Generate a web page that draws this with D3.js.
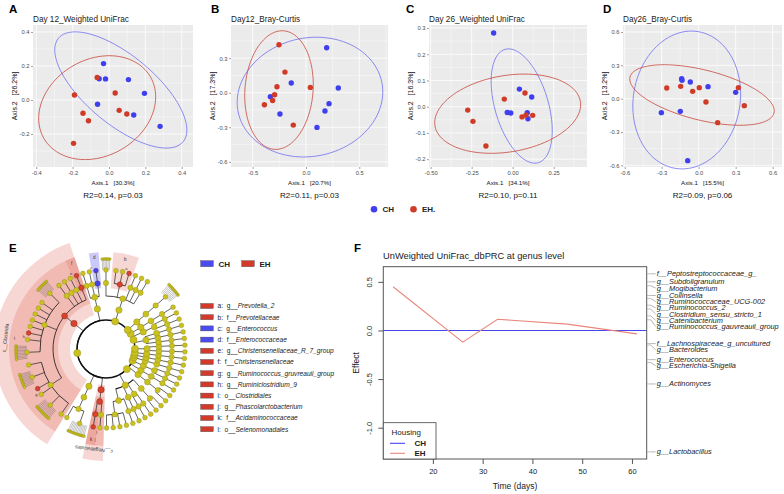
<!DOCTYPE html>
<html><head><meta charset="utf-8">
<script src="https://cdn.jsdelivr.net/npm/d3@7"></script>
<style>body{margin:0;background:#fff} svg{display:block;font-family:"Liberation Sans",Arial,sans-serif}</style>
</head><body><svg id="c" width="784" height="494"></svg>
<script>
// ================= DATA =================
// PCoA panels A-D
const pcoaTitles = ["Day 12_Weighted UniFrac","Day12_Bray-Curtis","Day 26_Weighted UniFrac","Day26_Bray-Curtis"];
const pcoaAxis1 = ["Axis.1   [30.3%]","Axis.1   [20.7%]","Axis.1   [34.1%]","Axis.1   [15.5%]"];
const pcoaAxis2 = ["Axis.2   [26.2%]","Axis.2   [17.3%]","Axis.2   [16.3%]","Axis.2   [13.2%]"];
const pcoaStats = ["R2=0.14, p=0.03","R2=0.11, p=0.03","R2=0.10, p=0.11","R2=0.09, p=0.06"];
const pcoaXTicks = [[-0.4,-0.2,0,0.2,0.4],[-0.5,0,0.5],[-0.5,-0.25,0,0.25],[-0.6,-0.3,0,0.3,0.6]];
const pcoaYTicks = [[-0.2,0,0.2,0.4],[-0.6,-0.3,0,0.3],[-0.2,-0.1,0,0.1,0.2,0.3],[-0.6,-0.3,0,0.3,0.6]];
const pcoaXFmt = [".1f",".1f",".2f",".1f"];
const chPoints = [
  [[-0.03,0.214],[-0.054,0.125],[-0.019,0.124],[0.107,0.12],[0.195,0.039],[-0.063,-0.025],[0.136,-0.088],[0.281,-0.155]],
  [[0.194,0.391],[0.303,0.041],[-0.138,0.084],[0.216,-0.095],[0.178,-0.159],[0.103,-0.301],[-0.334,-0.035],[-0.244,-0.185]],
  [[-0.116,0.281],[0.041,0.067],[0.116,0.037],[-0.033,-0.022],[-0.012,-0.024],[0.089,-0.023],[0.093,-0.046]],
  [[-0.138,0.18],[-0.135,0.165],[-0.068,0.15],[0.076,0.108],[0.3,0.057],[-0.303,-0.126],[-0.149,-0.114],[-0.089,-0.558]]
];
const ehPoints = [
  [[-0.065,0.133],[-0.19,0.029],[0.034,0.041],[-0.143,-0.078],[0.056,-0.061],[0.098,-0.082],[-0.113,-0.122],[-0.195,-0.255]],
  [[-0.253,0.417],[-0.197,0.179],[-0.272,0.052],[-0.294,-0.017],[-0.313,-0.067],[-0.39,-0.104],[0.041,0.046],[-0.119,-0.281]],
  [[-0.051,0.029],[0.075,0.052],[-0.274,-0.013],[-0.242,-0.056],[-0.163,-0.15],[0.057,-0.039],[0.081,-0.032],[0.122,-0.033]],
  [[-0.259,0.096],[-0.146,0.111],[-0.049,0.066],[0.005,0.099],[0.322,0.099],[0.059,-0.03],[0.37,-0.063],[0.154,-0.216]]
];
// ellipse: centre x, centre y, first half-axis (dx,dy), second half-axis (dx,dy), in data units
const chEllipse = [[0.065,0.059,0.343,-0.304,-0.12,-0.156],[0.0375,-0.038,0.68,0,0.06,0.52],[0.055,0.0025,-0.1016,0.216,0.156,0.0287],[-0.097,-0.012,0.0946,0.615,0.427,-0.081]];
const ehEllipse = [[-0.065,-0.045,0.293,0.181,0.133,-0.246],[-0.253,0.023,0.32,0,0.03,0.515],[-0.0305,-0.0267,0.443,0.047,0.0394,-0.1436],[0.027,0.033,0.584,-0.162,-0.049,-0.219]];
const groupNames = ["CH","EH."];

// LEfSe cladogram (E): phylum, class, order, family, genus, number of terminal leaves
const cladeRows = [
 ["Bacteroidetes","Bacteroidia","Bacteroidales","Bacteroidaceae","Bacteroides",0],
 ["Bacteroidetes","Bacteroidia","Bacteroidales","Rikenellaceae","Alistipes",0],
 ["Bacteroidetes","Bacteroidia","Bacteroidales","Tannerellaceae","Parabacteroides",0],
 ["Bacteroidetes","Bacteroidia","Bacteroidales","Prevotellaceae","Prevotella_2",0],
 ["Bacteroidetes","Bacteroidia","Bacteroidales","Prevotellaceae","Prevotella_9",0],
 ["Bacteroidetes","Bacteroidia","Bacteroidales","Prevotellaceae","Alloprevotella",0],
 ["Bacteroidetes","Bacteroidia","Bacteroidales","Muribaculaceae","uncultured",6],
 ["Firmicutes","Bacilli","Lactobacillales","Enterococcaceae","Enterococcus",0],
 ["Firmicutes","Bacilli","Lactobacillales","Lactobacillaceae","Lactobacillus",0],
 ["Firmicutes","Bacilli","Lactobacillales","Streptococcaceae","Streptococcus",0],
 ["Firmicutes","Clostridia","Clostridiales","Christensenellaceae","Christensenellaceae_R_7_group",0],
 ["Firmicutes","Clostridia","Clostridiales","Family_XIII","Mogibacterium",0],
 ["Firmicutes","Clostridia","Clostridiales","Peptostreptococcaceae","g_",0],
 ["Firmicutes","Clostridia","Clostridiales","Clostridiaceae_1","Clostridium_sensu_stricto_1",0],
 ["Firmicutes","Clostridia","Clostridiales","Ruminococcaceae","uncultured",9],
 ["Firmicutes","Clostridia","Clostridiales","Ruminococcaceae","Ruminococcaceae_UCG-002",0],
 ["Firmicutes","Clostridia","Clostridiales","Ruminococcaceae","Ruminococcaceae_UCG-005",0],
 ["Firmicutes","Clostridia","Clostridiales","Ruminococcaceae","Ruminococcus_2",0],
 ["Firmicutes","Clostridia","Clostridiales","Ruminococcaceae","Ruminococcus_1",0],
 ["Firmicutes","Clostridia","Clostridiales","Ruminococcaceae","Subdoligranulum",0],
 ["Firmicutes","Clostridia","Clostridiales","Ruminococcaceae","Ruminiclostridium_9",0],
 ["Firmicutes","Clostridia","Clostridiales","Ruminococcaceae","Oscillibacter",0],
 ["Firmicutes","Clostridia","Clostridiales","Ruminococcaceae","Ruminococcaceae_UCG-014",10],
 ["Firmicutes","Clostridia","Clostridiales","Lachnospiraceae","Blautia",0],
 ["Firmicutes","Clostridia","Clostridiales","Lachnospiraceae","Lachnospiraceae_NK4A136_group",10],
 ["Firmicutes","Clostridia","Clostridiales","Lachnospiraceae","Ruminococcus_gauvreauii_group",0],
 ["Firmicutes","Clostridia","Clostridiales","Lachnospiraceae","Dorea",0],
 ["Firmicutes","Clostridia","Clostridiales","Lachnospiraceae","uncultured",12],
 ["Firmicutes","Clostridia","Clostridiales","Lachnospiraceae","Roseburia",0],
 ["Firmicutes","Erysipelotrichia","Erysipelotrichales","Erysipelotrichaceae","Catenibacterium",0],
 ["Firmicutes","Erysipelotrichia","Erysipelotrichales","Erysipelotrichaceae","uncultured",12],
 ["Firmicutes","Negativicutes","Selenomonadales","Acidaminococcaceae","Phascolarctobacterium",0],
 ["Firmicutes","Negativicutes","Selenomonadales","Veillonellaceae","Megasphaera",0],
 ["Proteobacteria","Gammaproteobacteria","Enterobacteriales","Enterobacteriaceae","Escherichia-Shigella",0],
 ["Proteobacteria","Gammaproteobacteria","Enterobacteriales","Enterobacteriaceae","Klebsiella",0],
 ["Proteobacteria","Gammaproteobacteria","Enterobacteriales","Enterobacteriaceae","Proteus",0],
 ["Proteobacteria","Gammaproteobacteria","Enterobacteriales","Enterobacteriaceae","Enterobacter",0],
 ["Proteobacteria","Gammaproteobacteria","Enterobacteriales","Morganellaceae","Morganella",0],
 ["Proteobacteria","Gammaproteobacteria","Pasteurellales","Pasteurellaceae","Haemophilus",0],
 ["Proteobacteria","Gammaproteobacteria","Pseudomonadales","Moraxellaceae","Acinetobacter",0],
 ["Proteobacteria","Gammaproteobacteria","Pseudomonadales","Pseudomonadaceae","Pseudomonas",0],
 ["Proteobacteria","Gammaproteobacteria","Betaproteobacteriales","Burkholderiaceae","Parasutterella",0],
 ["Proteobacteria","Gammaproteobacteria","Betaproteobacteriales","Burkholderiaceae","Sutterella",0],
 ["Proteobacteria","Deltaproteobacteria","Desulfovibrionales","Desulfovibrionaceae","Desulfovibrio",0],
 ["Proteobacteria","Deltaproteobacteria","Desulfovibrionales","Desulfovibrionaceae","Bilophila",0],
 ["Proteobacteria","Alphaproteobacteria","Rhizobiales","Rhizobiaceae","Ochrobactrum",0],
 ["Epsilonbacteraeota","Campylobacteria","Campylobacterales","Helicobacteraceae","Helicobacter",0],
 ["Epsilonbacteraeota","Campylobacteria","Campylobacterales","Campylobacteraceae","Campylobacter",0],
 ["Fusobacteria","Fusobacteriia","Fusobacteriales","Fusobacteriaceae","Fusobacterium",0],
 ["Verrucomicrobia","Verrucomicrobiae","Verrucomicrobiales","Akkermansiaceae","Akkermansia",0],
 ["Spirochaetes","Spirochaetia","Spirochaetales","Spirochaetaceae","Treponema_2",0],
 ["Tenericutes","Mollicutes","Anaeroplasmatales","Anaeroplasmataceae","Anaeroplasma",0],
 ["Tenericutes","Mollicutes","Mollicutes_RF39","f_","g_",0],
 ["Actinobacteria","Actinobacteria","Actinomycetales","Actinomycetaceae","Actinomyces",0],
 ["Actinobacteria","Actinobacteria","Bifidobacteriales","Bifidobacteriaceae","Bifidobacterium",0],
 ["Actinobacteria","Actinobacteria","Corynebacteriales","Corynebacteriaceae","Corynebacterium_1",0],
 ["Actinobacteria","Coriobacteriia","Coriobacteriales","Coriobacteriaceae","Collinsella",0],
 ["Actinobacteria","Coriobacteriia","Coriobacteriales","Eggerthellaceae","Enterorhabdus",0],
 ["Patescibacteria","Saccharimonadia","Saccharimonadales","Saccharimonadaceae","Candidatus_Saccharimonas",0],
 ["Cyanobacteria","Melainabacteria","Gastranaerophilales","f_","uncultured",10]
];
// biomarkers: taxon path, letter / label, enriched group
const cladeMarkers = [
 ["Bacteroidetes|Bacteroidia|Bacteroidales|Prevotellaceae|Prevotella_2","a","EH"],
 ["Bacteroidetes|Bacteroidia|Bacteroidales|Prevotellaceae","b","EH"],
 ["Firmicutes|Bacilli|Lactobacillales|Enterococcaceae|Enterococcus","c","CH"],
 ["Firmicutes|Bacilli|Lactobacillales|Enterococcaceae","d","CH"],
 ["Firmicutes|Clostridia|Clostridiales|Christensenellaceae|Christensenellaceae_R_7_group","e","EH"],
 ["Firmicutes|Clostridia|Clostridiales|Christensenellaceae","f","EH"],
 ["Firmicutes|Clostridia|Clostridiales|Lachnospiraceae|Ruminococcus_gauvreauii_group","g","EH"],
 ["Firmicutes|Clostridia|Clostridiales|Ruminococcaceae|Ruminiclostridium_9","h","EH"],
 ["Firmicutes|Clostridia|Clostridiales","i","EH"],
 ["Firmicutes|Negativicutes|Selenomonadales|Acidaminococcaceae|Phascolarctobacterium","j","EH"],
 ["Firmicutes|Negativicutes|Selenomonadales|Acidaminococcaceae","k","EH"],
 ["Firmicutes|Negativicutes|Selenomonadales","l","EH"],
 ["Firmicutes|Clostridia","c__Clostridia","EH"],
 ["Firmicutes|Negativicutes","c__Negativicutes","EH"]
];
const lefseLegend = [
 ["a","g__","Prevotella_2","EH"],["b","f__","Prevotellaceae","EH"],["c","g__","Enterococcus","CH"],
 ["d","f__","Enterococcaceae","CH"],["e","g__","Christensenellaceae_R_7_group","EH"],["f","f__","Christensenellaceae","EH"],
 ["g","g__","Ruminococcus_gruvreauii_group","EH"],["h","g__","Ruminiclostridium_9","EH"],["i","o__","Clostridiales","EH"],
 ["j","g__","Phascolarctobacterium","EH"],["k","f__","Acidaminococcaceae","EH"],["l","o__","Selenomonadales","EH"]
];
const lefseGroups = ["CH","EH"];

// dbPRC (F)
const prcDays = [12,26,33,47,61];
const prcCH = [0,0,0,0,0];
const prcEH = [0.45,-0.12,0.115,0.065,-0.035];
const prcXTicks = [20,30,40,50,60];
const prcYTicks = [-1.0,-0.5,0.0,0.5];
const genusLabels = ["f__Peptostreptococcaceae_g_","g__Subdoligranulum","g__Mogibacterium","g__Collinsella",
 "g__Ruminococcaceae_UCG-002","g__Ruminococcus_2","g__Clostridium_sensu_stricto_1","g__Catenibacterium",
 "g__Ruminococcus_gauvreauii_group","f__Lachnospiraceae_g_uncultured","g__Bacteroides","g__Enterococcus",
 "g__Escherichia-Shigella","g__Actinomyces","g__Lactobacillus"];
const genusScores = [0.583,0.5,0.46,0.36,0.33,0.26,0.22,0.15,0.11,-0.135,-0.15,-0.3,-0.33,-0.55,-1.249];

// ================= DRAW =================
const svg = d3.select("#c");
const BLUE = "#3f3ff0", RED = "#d03b28";

// ---------- A-D ----------
const boxes = [
 {l:33,r:193,t:25,b:167,xd:[-0.418,0.462],yd:[-0.394,0.441]},
 {l:231,r:388,t:25,b:167,xd:[-0.703,0.769],yd:[-0.645,0.588]},
 {l:429,r:587,t:25,b:167,xd:[-0.51,0.453],yd:[-0.23,0.3115]},
 {l:623,r:782,t:25,b:167,xd:[-0.614,0.676],yd:[-0.615,0.663]}
];
const panelLetterX = [9,211,406,603];
function minorOf(ticks, dom){
  const st = ticks[1]-ticks[0]; const out=[];
  for(let v=ticks[0]-st/2; v<=dom[1]+1e-9; v+=st){ if(v>=dom[0]) out.push(v); }
  return out;
}
boxes.forEach((bx,i)=>{
  const g = svg.append("g");
  const x = d3.scaleLinear().domain(bx.xd).range([bx.l,bx.r]);
  const y = d3.scaleLinear().domain(bx.yd).range([bx.b,bx.t]);
  g.append("rect").attr("x",bx.l).attr("y",bx.t).attr("width",bx.r-bx.l).attr("height",bx.b-bx.t).attr("fill","#ebebeb");
  const mx = minorOf(pcoaXTicks[i],bx.xd), my = minorOf(pcoaYTicks[i],bx.yd);
  g.selectAll(".mx").data(mx).join("line").attr("x1",d=>x(d)).attr("x2",d=>x(d)).attr("y1",bx.t).attr("y2",bx.b).attr("stroke","#fff").attr("stroke-width",0.4);
  g.selectAll(".my").data(my).join("line").attr("y1",d=>y(d)).attr("y2",d=>y(d)).attr("x1",bx.l).attr("x2",bx.r).attr("stroke","#fff").attr("stroke-width",0.4);
  g.selectAll(".gx").data(pcoaXTicks[i]).join("line").attr("x1",d=>x(d)).attr("x2",d=>x(d)).attr("y1",bx.t).attr("y2",bx.b).attr("stroke","#fff").attr("stroke-width",0.8);
  g.selectAll(".gy").data(pcoaYTicks[i]).join("line").attr("y1",d=>y(d)).attr("y2",d=>y(d)).attr("x1",bx.l).attr("x2",bx.r).attr("stroke","#fff").attr("stroke-width",0.8);
  const fx = d3.format(pcoaXFmt[i]), fy = d3.format(".1f");
  const ax = g.append("g").attr("transform",`translate(0,${bx.b})`).call(d3.axisBottom(x).tickValues(pcoaXTicks[i]).tickFormat(d=>fx(d).replace("−","-")).tickSize(2).tickPadding(1.5));
  const ay = g.append("g").attr("transform",`translate(${bx.l},0)`).call(d3.axisLeft(y).tickValues(pcoaYTicks[i]).tickFormat(d=>fy(d).replace("−","-")).tickSize(2).tickPadding(1.5));
  [ax,ay].forEach(a=>{a.select(".domain").remove(); a.selectAll("line").attr("stroke","#444").attr("stroke-width",0.5);
    a.selectAll("text").attr("fill","#4d4d4d").attr("font-size",5.8).attr("font-family","Liberation Sans, Arial, sans-serif");});
  const line = d3.line().x(d=>x(d[0])).y(d=>y(d[1]));
  const ts = d3.range(0,101).map(k=>k/100*2*Math.PI);
  [[chEllipse[i],"#6f6ff2"],[ehEllipse[i],"#c8483c"]].forEach(([e,c])=>{
    const pts = ts.map(t=>[e[0]+Math.cos(t)*e[2]+Math.sin(t)*e[4], e[1]+Math.cos(t)*e[3]+Math.sin(t)*e[5]]);
    g.append("path").attr("d",line(pts)).attr("fill","none").attr("stroke",c).attr("stroke-width",0.8);
  });
  g.selectAll(".pc").data(chPoints[i]).join("circle").attr("cx",d=>x(d[0])).attr("cy",d=>y(d[1])).attr("r",2.7).attr("fill",BLUE);
  g.selectAll(".pe").data(ehPoints[i]).join("circle").attr("cx",d=>x(d[0])).attr("cy",d=>y(d[1])).attr("r",2.7).attr("fill",RED);
  g.append("text").attr("x",bx.l).attr("y",21.5).attr("font-size",8.2).attr("fill","#1a1a1a").text(pcoaTitles[i]);
  g.append("text").attr("x",(bx.l+bx.r)/2).attr("y",bx.b+18).attr("text-anchor","middle").attr("font-size",6.2).attr("fill","#111").attr("xml:space","preserve").text(pcoaAxis1[i]);
  g.append("text").attr("transform",`translate(${bx.l-16.5},${(bx.t+bx.b)/2}) rotate(-90)`).attr("text-anchor","middle").attr("font-size",7).attr("fill","#111").attr("xml:space","preserve").text(pcoaAxis2[i]);
  g.append("text").attr("x",(bx.l+bx.r)/2).attr("y",bx.b+31).attr("text-anchor","middle").attr("font-size",8).attr("fill","#111").text(pcoaStats[i]);
  svg.append("text").attr("x",panelLetterX[i]).attr("y",13).attr("font-size",11.5).attr("font-weight","bold").text(["A","B","C","D"][i]);
});
const lg = svg.append("g");
groupNames.forEach((n,k)=>{
  const x0 = 374 + k*39.5;
  lg.append("circle").attr("cx",x0).attr("cy",209.3).attr("r",3.3).attr("fill",k? RED: BLUE);
  lg.append("text").attr("x",x0+8.5).attr("y",212.2).attr("font-size",8).attr("font-weight","bold").attr("fill","#222").text(n);
});

// ---------- E: cladogram ----------
svg.append("text").attr("x",9).attr("y",252).attr("font-size",11.5).attr("font-weight","bold").text("E");
const CX = 106, CY = 349;
const levelR = [0,29,41,53,66,79,90];
const rootObj = {name:"root",path:"",children:[]};
cladeRows.forEach(r=>{
  let node = rootObj;
  for(let d=0; d<5; d++){
    const p = node.path ? node.path+"|"+r[d] : r[d];
    let ch = node.children.find(c=>c.path===p);
    if(!ch){ ch = {name:r[d],path:p,children:[]}; node.children.push(ch); }
    node = ch;
  }
  for(let s=0;s<r[5];s++) node.children.push({name:"s"+s,path:node.path+"|s"+s,children:[]});
});
const root = d3.hierarchy(rootObj, d=>d.children.length? d.children : null);
d3.cluster().size([1,1]).separation((a,b)=> (a.depth===6 && b.depth===6 && a.parent===b.parent) ? 0.2 : 1)(root);
const TH0 = 56, SPAN = 352;
const ang = n => (TH0 + n.x*SPAN) * Math.PI/180;
const px = (a,r)=>CX + r*Math.cos(a), py = (a,r)=>CY - r*Math.sin(a);
const markerMap = new Map(cladeMarkers.map(m=>[m[0],m]));
const E = svg.append("g");
const sectorArc = (a0,a1,r0,r1)=>{
  const p = d3.path();
  p.arc(CX,CY,r1,-a0,-a1,true); p.arc(CX,CY,r0,-a1,-a0,false); p.closePath(); return p.toString();
};
const unitA = (root.leaves()[1].x - root.leaves()[0].x);
root.descendants().filter(n=>n.depth>=2 && n.depth<=4 && markerMap.has(n.data.path)).forEach(n=>{
  const m = markerMap.get(n.data.path);
  const lv = n.leaves();
  const a0 = (TH0 + (lv[0].x - 0.6*unitA)*SPAN)*Math.PI/180, a1 = (TH0 + (lv[lv.length-1].x + 0.6*unitA)*SPAN)*Math.PI/180;
  const r0 = levelR[n.depth]-5, r1 = n.depth===2 ? 112 : 97;
  const col = m[2]==="CH" ? "#7b7bf2" : "#e3796d";
  E.append("path").attr("d",sectorArc(a0,a1,r0,r1)).attr("fill",col).attr("fill-opacity", m[2]==="CH"?0.4:0.3);
  const am = (a0+a1)/2;
  if(n.depth===2){
    const rr = 101.5, deg = am*180/Math.PI;
    E.append("text").attr("transform",`translate(${px(am,rr)},${py(am,rr)}) rotate(${90-deg})`).attr("text-anchor","middle").attr("dominant-baseline","central").attr("font-size",5).attr("fill","#333").text(m[1]);
  } else {
    E.append("text").attr("x",px(am,92)).attr("y",py(am,92)).attr("text-anchor","middle").attr("dominant-baseline","central").attr("font-size",4.5).attr("fill","#333").text(m[1]);
  }
});
E.append("circle").attr("cx",CX).attr("cy",CY).attr("r",levelR[1]).attr("fill","none").attr("stroke","#111").attr("stroke-width",1.4);
root.descendants().filter(n=>n.depth>=2).forEach(n=>{
  const a = ang(n), r0 = levelR[n.depth-1], r1 = levelR[n.depth];
  E.append("line").attr("x1",px(a,r0)).attr("y1",py(a,r0)).attr("x2",px(a,r1)).attr("y2",py(a,r1))
   .attr("stroke", n.depth===6 ? "#333" : "#222").attr("stroke-width", n.depth===6 ? 0.3 : 0.7);
});
root.descendants().filter(n=>n.depth>=1 && n.children && n.children.length>1 && n.depth<5).forEach(n=>{
  const a0 = ang(n.children[0]), a1 = ang(n.children[n.children.length-1]), r = levelR[n.depth];
  const p = d3.path(); p.arc(CX,CY,r,-a0,-a1,true);
  E.append("path").attr("d",p.toString()).attr("fill","none").attr("stroke","#111").attr("stroke-width",n.depth<=2?1.2:0.8);
});
const nodeR = [0,3.6,3.2,3,2.7,2.4,1.4];
const nodes = root.descendants().filter(n=>n.depth>=1).sort((a,b)=>b.depth-a.depth);
nodes.forEach(n=>{
  const a = ang(n), r = levelR[n.depth];
  const m = markerMap.get(n.data.path);
  const fill = m ? (m[2]==="CH" ? "#4444ee" : "#d8432f") : "#c9c11d";
  E.append("circle").attr("cx",px(a,r)).attr("cy",py(a,r)).attr("r",nodeR[n.depth]).attr("fill",fill).attr("stroke", m ? "#6b1e14" : "#85801a").attr("stroke-width",0.35);
  if(m && n.depth===5){
    E.append("text").attr("x",px(a+0.05,r+4)).attr("y",py(a+0.05,r+4)).attr("text-anchor","middle").attr("dominant-baseline","central").attr("font-size",4).attr("fill","#333").text(m[1]);
  }
});
lefseGroups.forEach((g,k)=>{
  const x0 = 200.7 + k*41;
  svg.append("rect").attr("x",x0).attr("y",260.7).attr("width",12.6).attr("height",6).attr("fill",g==="CH"?"#4b4bf0":"#d33a2c").attr("stroke","#444").attr("stroke-width",0.4);
  svg.append("text").attr("x",x0+17.8).attr("y",266.5).attr("font-size",8).attr("font-weight","bold").attr("fill","#222").text(g);
});
lefseLegend.forEach((d,k)=>{
  const y0 = 306 + k*11.2;
  svg.append("rect").attr("x",200.7).attr("y",y0-2.5).attr("width",12.6).attr("height",5).attr("fill",d[3]==="CH"?"#4b4bf0":"#d33a2c").attr("stroke","#444").attr("stroke-width",0.4);
  const t = svg.append("text").attr("x",217.5).attr("y",y0+2.3).attr("font-size",6.6).attr("fill","#222").attr("xml:space","preserve");
  t.append("tspan").text(d[0]+":  "+d[1]);
  t.append("tspan").attr("font-style","italic").text(d[2]);
});

// ---------- F: dbPRC ----------
svg.append("text").attr("x",354).attr("y",251.5).attr("font-size",11.5).attr("font-weight","bold").text("F");
const F = {l:383.3,r:646.7,t:266.7,b:459};
const fx = d3.scaleLinear().domain([10.04,62.96]).range([F.l,F.r]);
const fy = d3.scaleLinear().domain([-1.322,0.656]).range([F.b,F.t]);
const fg = svg.append("g");
fg.append("text").attr("x",383).attr("y",258.5).attr("font-size",9.3).attr("fill","#222").text("UnWeighted UniFrac_dbPRC at genus level");
const fline = d3.line().x((d,k)=>fx(prcDays[k])).y(d=>fy(d));
fg.append("line").attr("x1",F.l).attr("x2",F.r).attr("y1",fy(prcCH[0])).attr("y2",fy(prcCH[0])).attr("stroke","#4646ee").attr("stroke-width",1.1);
fg.append("path").attr("d",fline(prcEH)).attr("fill","none").attr("stroke","#e9877b").attr("stroke-width",1.1);
fg.append("rect").attr("x",F.l).attr("y",F.t).attr("width",F.r-F.l).attr("height",F.b-F.t).attr("fill","none").attr("stroke","#555").attr("stroke-width",1);
const fax = fg.append("g").attr("transform",`translate(0,${F.b})`).call(d3.axisBottom(fx).tickValues(prcXTicks).tickSize(5).tickPadding(5).tickFormat(d3.format("d")));
const fay = fg.append("g").attr("transform",`translate(${F.l},0)`).call(d3.axisLeft(fy).tickValues(prcYTicks).tickSize(5).tickPadding(2).tickFormat(d=>d3.format(".1f")(d).replace("−","-")));
[fax,fay].forEach(a=>{a.select(".domain").remove(); a.selectAll("line").attr("stroke","#555"); a.selectAll("text").attr("font-size",7.5).attr("fill","#222").attr("font-family","Liberation Sans, Arial, sans-serif");});
fay.selectAll(".tick text").attr("text-anchor","middle").attr("transform","translate(-11.5,0) rotate(-90)").attr("x",0).attr("dy","0");
fg.append("text").attr("x",(F.l+F.r)/2).attr("y",489).attr("text-anchor","middle").attr("font-size",8.5).attr("fill","#222").text("Time (days)");
fg.append("text").attr("transform",`translate(358.5,${(F.t+F.b)/2}) rotate(-90)`).attr("text-anchor","middle").attr("font-size",8.5).attr("fill","#222").text("Effect");
let prevY = -1e9;
genusLabels.forEach((lab,k)=>{
  const ys = fy(genusScores[k]);
  const ly = Math.max(ys, prevY+6.2); prevY = ly;
  fg.append("line").attr("x1",F.r).attr("x2",F.r+4).attr("y1",ys).attr("y2",ys).attr("stroke","#999").attr("stroke-width",0.6);
  fg.append("line").attr("x1",F.r+4).attr("x2",F.r+9).attr("y1",ys).attr("y2",ly).attr("stroke","#444").attr("stroke-width",0.4);
  fg.append("text").attr("x",F.r+10).attr("y",ly).attr("dominant-baseline","central").attr("font-size",7.4).attr("font-style","italic").attr("fill","#222").text(lab);
});
const lgF = fg.append("g");
lgF.append("rect").attr("x",F.l).attr("y",422.7).attr("width",52.7).attr("height",F.b-422.7).attr("fill","#fff").attr("stroke","#444").attr("stroke-width",0.8);
lgF.append("text").attr("x",391.5).attr("y",434.5).attr("font-size",8).attr("fill","#222").text("Housing");
[["CH","#4646ee"],["EH","#e9877b"]].forEach(([n,c],k)=>{
  const yy = 443.3 + k*10;
  lgF.append("line").attr("x1",390).attr("x2",405).attr("y1",yy).attr("y2",yy).attr("stroke",c).attr("stroke-width",1.1);
  lgF.append("text").attr("x",414.5).attr("y",yy+2.8).attr("font-size",8).attr("font-weight","bold").attr("fill","#222").text(n);
});
</script></body></html>
